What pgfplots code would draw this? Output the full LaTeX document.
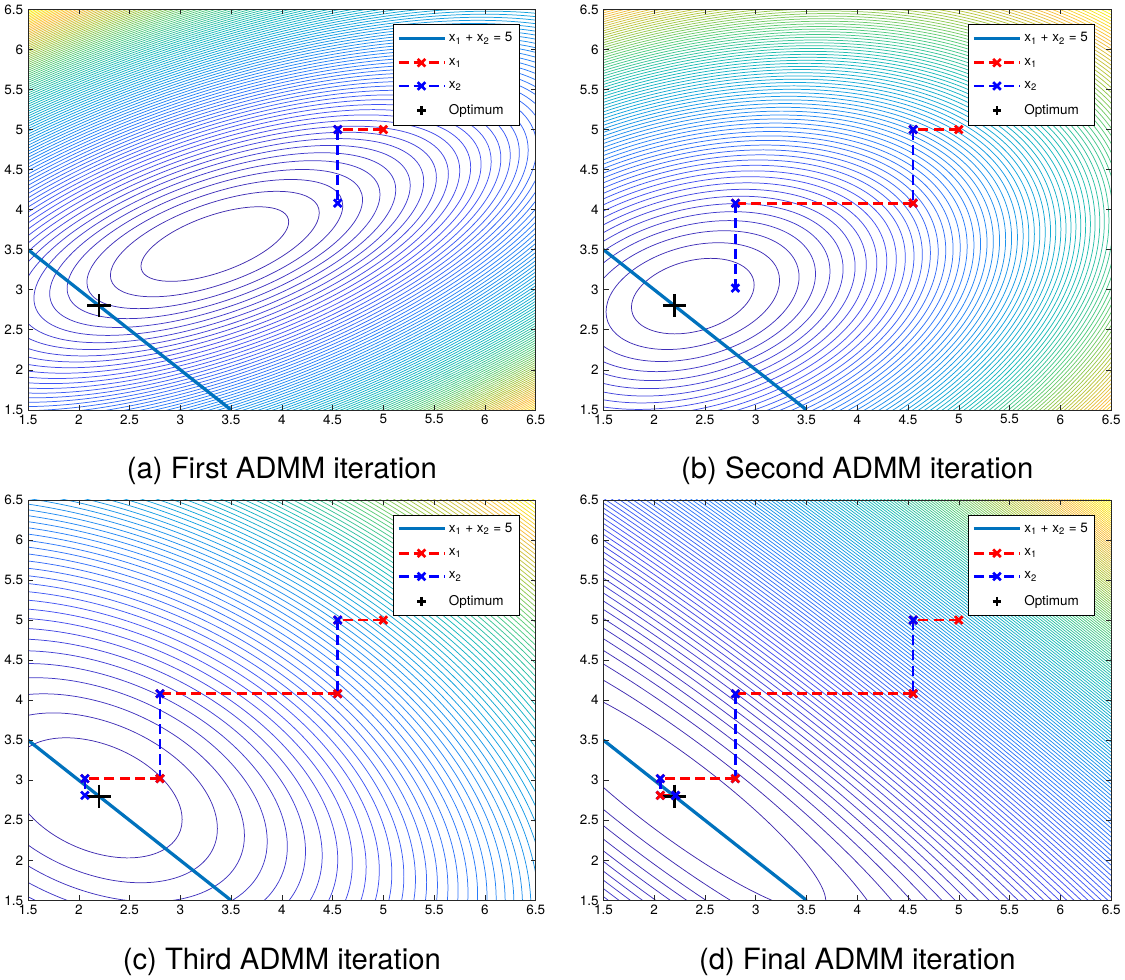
\documentclass[border=0pt]{standalone}
\usepackage{pgfplots}
\pgfplotsset{compat=1.18}
\usepackage{fontspec}
\setmainfont{TeX Gyre Heros}

\definecolor{mblue}{rgb}{0,0.447,0.741}

\pgfplotsset{
  colormap={parula}{
    rgb=(0.2422,0.1504,0.6603)
    rgb=(0.2670,0.3100,0.9500)
    rgb=(0.1600,0.4900,0.9800)
    rgb=(0.0700,0.6300,0.8800)
    rgb=(0.0900,0.7300,0.7200)
    rgb=(0.3300,0.8000,0.4900)
    rgb=(0.6800,0.7800,0.2400)
    rgb=(0.9800,0.7400,0.2400)
    rgb=(0.9769,0.9839,0.0805)
  },
  admm/.style={
    scale only axis, width=376.5pt, height=297pt,
    xmin=1.5, xmax=6.5, ymin=1.5, ymax=6.5,
    xtick={1.5,2,...,6.5}, ytick={1.5,2,...,6.5},
    tick align=inside, major tick length=3.75pt,
    every tick/.style={black!85, line width=0.4pt},
    axis line style={black!85, line width=0.5pt},
    tick label style={font=\fontsize{10}{12}\selectfont},
    /pgf/number format/assume math mode=true,
    axis on top,
    legend style={at={(1,1)}, anchor=north east, xshift=-12pt, yshift=-11pt,
      draw=black, line width=0.5pt, fill=white,
      font=\fontsize{10}{12}\selectfont, row sep=6.5pt,
      inner xsep=3pt, inner ysep=4pt},
    legend cell align=left,
    legend image code/.code={\draw[mark repeat=2,mark phase=2,##1]
      plot coordinates {(0cm,0cm) (0.6cm,0cm) (1.2cm,0cm)};},
  },
  cline/.style={mblue, line width=2.4pt, no markers},
  xone/.style={red, line width=2pt, dash pattern=on 7.5pt off 3.75pt,
    mark=x, mark size=4pt, mark options={solid}},
  xtwo/.style={blue, line width=2pt, dash pattern=on 7.5pt off 3.75pt,
    mark=x, mark size=4pt, mark options={solid}},
  opt/.style={black, line width=2pt, only marks, mark=+, mark size=8.6pt},
  optl/.style={black, line width=2pt, only marks, mark=+, mark size=3.2pt,
    legend image code/.code={\draw[##1] plot coordinates {(0.6cm,0cm)};}},
}

% contour lines of a quadratic: centre (#1,#2), Hessian [#3 #4; #4 #5], first level #6
\newcommand{\contours}[6]{%
  \pgfplotsextra{%
    \begingroup
    \pgfmathsetmacro\cdt{(#3)*(#5)-(#4)*(#4)}%
    \pgfmathsetmacro\ctrp{(#5)/\cdt}%
    \pgfmathsetmacro\ctrq{-(#4)/\cdt}%
    \pgfmathsetmacro\ctrr{(#3)/\cdt}%
    \pgfmathsetmacro\cua{sqrt(\ctrp)}%
    \pgfmathsetmacro\cub{\ctrq/\cua}%
    \pgfmathsetmacro\cvb{sqrt(\ctrr-\ctrq*\ctrq/\ctrp)}%
    \pgfmathsetmacro\cdxa{1.5-(#1)}\pgfmathsetmacro\cdxb{6.5-(#1)}%
    \pgfmathsetmacro\cdya{1.5-(#2)}\pgfmathsetmacro\cdyb{6.5-(#2)}%
    \pgfmathsetmacro\cL{max((#3)*\cdxa*\cdxa+2*(#4)*\cdxa*\cdya+(#5)*\cdya*\cdya,
      (#3)*\cdxa*\cdxa+2*(#4)*\cdxa*\cdyb+(#5)*\cdyb*\cdyb,
      (#3)*\cdxb*\cdxb+2*(#4)*\cdxb*\cdya+(#5)*\cdya*\cdya,
      (#3)*\cdxb*\cdxb+2*(#4)*\cdxb*\cdyb+(#5)*\cdyb*\cdyb)}%
    \pgfmathtruncatemacro\cN{\cL-(#6)}%
    \foreach \cn in {0,...,\cN}{%
      \pgfmathsetmacro\clv{(#6)+\cn}%
      \pgfmathsetmacro\csc{sqrt(\clv)}%
      \pgfmathsetmacro\cfr{min(1,\clv/\cL)}%
      \pgfplotscolormapaccess[0:1]{\cfr}{parula}%
      \edef\cdo{\noexpand\definecolor{cc}{rgb}{\pgfmathresult}}\cdo
      \pgfsetstrokecolor{cc}%
      \pgfsetlinewidth{0.55pt}%
      \pgfmathsetmacro\cxa{\csc*\cua}%
      \pgfmathsetmacro\cya{\csc*\cub}%
      \pgfmathsetmacro\cyb{\csc*\cvb}%
      \pgfpathellipse{\pgfplotspointaxisxy{#1}{#2}}%
        {\pgfplotspointaxisdirectionxy{\cxa}{\cya}}%
        {\pgfplotspointaxisdirectionxy{0}{\cyb}}%
      \pgfusepath{stroke}%
    }%
    \endgroup
  }%
}

\newcommand{\legendentries}{%
  \addlegendimage{cline}\addlegendentry{x\textsubscript{1} + x\textsubscript{2} = 5}
  \addlegendimage{xone}\addlegendentry{x\textsubscript{1}}
  \addlegendimage{xtwo}\addlegendentry{x\textsubscript{2}}
  \addlegendimage{optl}\addlegendentry{Optimum}
}

\begin{document}
\begin{tikzpicture}
\begin{axis}[admm, name=A, at={(0pt,0pt)}, anchor=south west]
  \contours{3.34}{3.57}{2.92}{-2.71}{7.13}{1}
  \addplot[cline, forget plot] coordinates {(1.5,3.5) (3.5,1.5)};
  \addplot[opt, forget plot] coordinates {(2.2,2.8)};
  \addplot[xone, forget plot] coordinates {(5,5) (4.55,5)};
  \addplot[xtwo, forget plot] coordinates {(4.55,5) (4.55,4.08)};
  \legendentries
\end{axis}

\begin{axis}[admm, name=B, at={(426.75pt,0pt)}, anchor=south west]
  \contours{2.38}{2.92}{3.0}{-1.134}{4.93}{1}
  \addplot[cline, forget plot] coordinates {(1.5,3.5) (3.5,1.5)};
  \addplot[opt, forget plot] coordinates {(2.2,2.8)};
  \addplot[xone, forget plot] coordinates {(5,5) (4.55,5)};
  \addplot[xtwo, forget plot] coordinates {(4.55,5) (4.55,4.08)};
  \addplot[xone, forget plot] coordinates {(4.55,4.08) (2.8,4.08)};
  \addplot[xtwo, forget plot] coordinates {(2.8,4.08) (2.8,3.02)};
  \legendentries
\end{axis}

\begin{axis}[admm, name=C, at={(0pt,-363.75pt)}, anchor=south west]
  \contours{2.18}{2.78}{1.64}{0.666}{2.05}{1}
  \addplot[cline, forget plot] coordinates {(1.5,3.5) (3.5,1.5)};
  \addplot[opt, forget plot] coordinates {(2.2,2.8)};
  \addplot[xone, forget plot] coordinates {(5,5) (4.55,5)};
  \addplot[xtwo, forget plot] coordinates {(4.55,5) (4.55,4.08)};
  \addplot[xone, forget plot] coordinates {(4.55,4.08) (2.8,4.08)};
  \addplot[xtwo, forget plot] coordinates {(2.8,4.08) (2.8,3.02)};
  \addplot[xone, forget plot] coordinates {(2.8,3.02) (2.06,3.02)};
  \addplot[xtwo, forget plot] coordinates {(2.06,3.02) (2.06,2.81)};
  \legendentries
\end{axis}

\begin{axis}[admm, name=D, at={(426.75pt,-363.75pt)}, anchor=south west]
  \contours{2.21}{2.81}{2.61}{2.42}{2.72}{1}
  \addplot[cline, forget plot] coordinates {(1.5,3.5) (3.5,1.5)};
  \addplot[opt, forget plot] coordinates {(2.2,2.8)};
  \addplot[xone, forget plot] coordinates {(5,5) (4.55,5)};
  \addplot[xtwo, forget plot] coordinates {(4.55,5) (4.55,4.08)};
  \addplot[xone, forget plot] coordinates {(4.55,4.08) (2.8,4.08)};
  \addplot[xtwo, forget plot] coordinates {(2.8,4.08) (2.8,3.02)};
  \addplot[xone, forget plot] coordinates {(2.8,3.02) (2.06,3.02)};
  \addplot[xtwo, forget plot] coordinates {(2.06,3.02) (2.06,2.81)};
  \addplot[xone, forget plot] coordinates {(2.06,2.81) (2.21,2.81)};
  \addplot[xtwo, forget plot] coordinates {(2.21,2.81) (2.21,2.81)};
  \legendentries
\end{axis}

\foreach \ax/\cap in {A/(a) First ADMM iteration, B/(b) Second ADMM iteration,
    C/(c) Third ADMM iteration, D/(d) Final ADMM iteration}{
  \node[anchor=base, yshift=-51pt, font=\fontsize{21.7}{26}\selectfont]
    at (\ax.south) {\cap};
}
\end{tikzpicture}
\end{document}
